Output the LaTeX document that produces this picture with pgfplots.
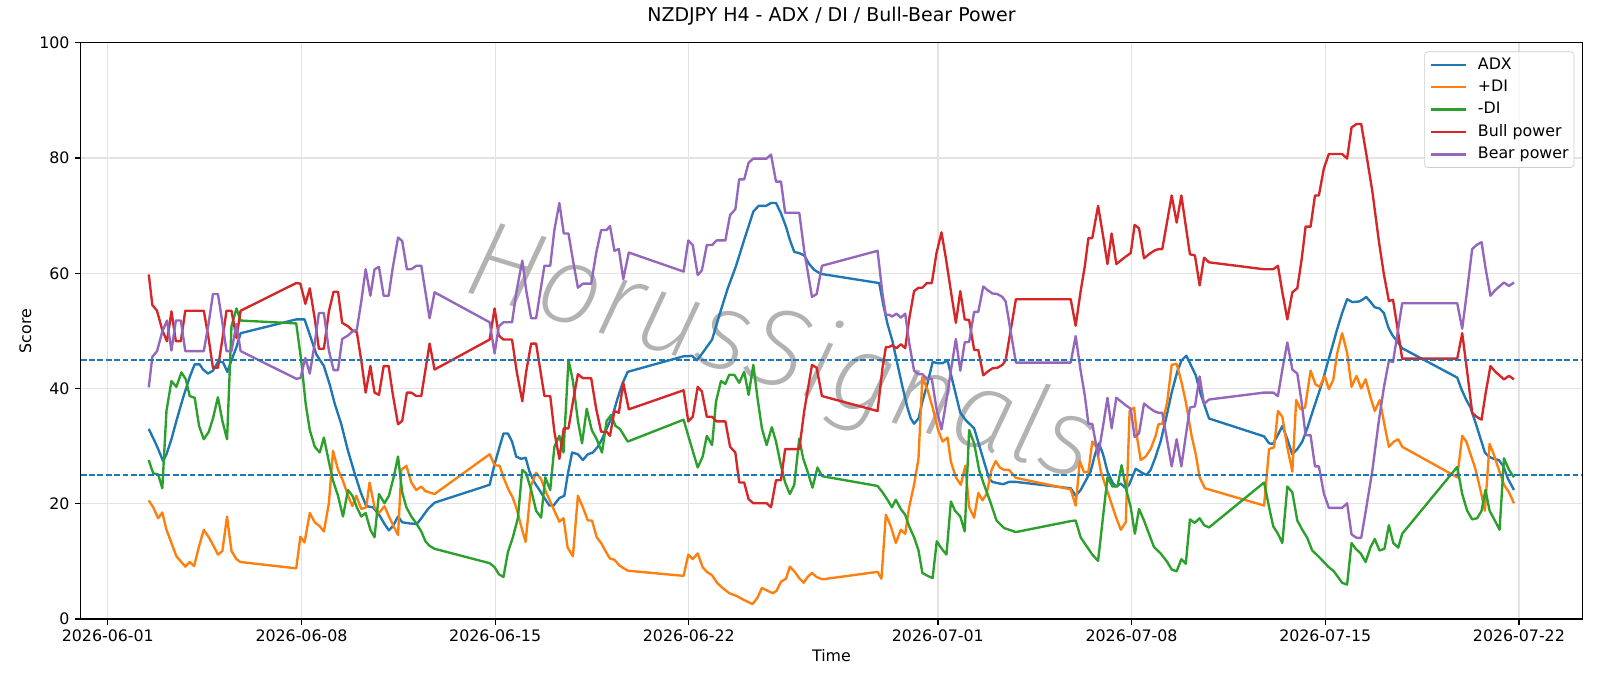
\documentclass[border=0pt]{standalone}
\usepackage{fontspec}
\setmainfont{DejaVu Sans}
\newfontfamily\wmfont{Fira Sans ExtraLight Italic}
\usepackage{pgfplots}
\pgfplotsset{compat=1.18}
\definecolor{cADX}{HTML}{1F77B4}
\definecolor{cPDI}{HTML}{FF7F0E}
\definecolor{cMDI}{HTML}{2CA02C}
\definecolor{cBull}{HTML}{D62728}
\definecolor{cBear}{HTML}{9467BD}
\begin{document}
\begin{tikzpicture}
\begin{axis}[
  at={(0,0)}, anchor=south west,
  scale only axis,
  width=13.139in, height=5.043in,
  xmin=-0.98, xmax=53.29, ymin=0, ymax=100,
  xtick={0,7,14,21,30,37,44,51},
  xticklabels={2026-06-01,2026-06-08,2026-06-15,2026-06-22,2026-07-01,2026-07-08,2026-07-15,2026-07-22},
  ytick={0,20,40,60,80,100},
  /pgf/number format/assume math mode=true,
  tick align=outside, tick pos=left,
  major tick length=3.5pt,
  every tick/.style={black, line width=0.8pt},
  axis line style={black, line width=0.8pt},
  grid=major, grid style={color=black!11, line width=0.8pt},
  ticklabel style={font=\fontsize{10}{12}\selectfont},
  label style={font=\fontsize{10}{12}\selectfont},
  xlabel={Time}, ylabel={Score},
  xlabel style={at={(axis description cs:0.5,-0.0642)}, anchor=center},
  ylabel style={at={(axis description cs:-0.0368,0.5)}, anchor=center},
  title={NZDJPY H4 - ADX / DI / Bull-Bear Power},
  title style={at={(axis description cs:0.5,1.0298)}, anchor=center, yshift=0pt, font=\fontsize{12}{14}\selectfont},
  legend cell align=left,
  legend image code/.code={\draw[#1, line width=1.5pt] (0bp,0bp) -- (22bp,0bp);},
  legend style={at={(1,1)}, anchor=north east, xshift=-5bp, yshift=-5.5bp,
    draw=black!20, rounded corners=2pt, fill=white, fill opacity=0.8, text opacity=1,
    font=\fontsize{10}{12}\selectfont, inner xsep=3.4bp, inner ysep=1.2bp,
    column sep=6.7bp,
    nodes={inner xsep=0bp, inner ysep=2.2bp, text height=7.5bp, text depth=2.2bp}},
  every axis plot/.append style={line width=1.5pt, line join=round},
]

% watermark, under the series
\node[rotate=-17, anchor=base, text=black!30, font=\fontsize{70}{70}\wmfont]
  at (axis cs:24.0,40.5) {HorusSignals};

\addplot[cADX] coordinates {
(1.48,33.0)(1.70,30.8)(1.82,29.5)(2.00,27.4)(2.12,28.6)(2.30,31.2)(2.48,34.4)(2.72,38.4)(2.96,42.0)(3.14,44.2)
(3.32,44.2)(3.44,43.3)(3.62,42.6)(3.80,43.1)(3.98,44.6)(4.16,44.6)(4.32,42.9)(4.47,44.9)(4.65,47.2)(4.80,49.6)
(6.81,52.0)(7.11,52.0)(7.29,49.5)(7.54,45.9)(7.81,43.9)(8.02,40.7)(8.20,37.4)(8.44,33.8)(8.68,29.2)(8.92,25.3)
(9.14,22.0)(9.34,19.6)(9.58,19.4)(9.82,18.0)(10.00,16.5)(10.16,15.4)(10.30,16.1)(10.49,17.8)(10.64,16.8)(10.91,16.6)
(11.17,16.5)(11.33,17.5)(11.57,19.1)(11.81,20.2)(13.80,23.3)(13.98,26.9)(14.16,29.9)(14.30,32.2)(14.46,32.2)(14.61,30.8)
(14.76,28.2)(14.94,27.8)(15.10,28.0)(15.24,25.6)(15.42,23.7)(15.60,22.4)(15.78,21.0)(15.96,19.7)(16.11,19.7)(16.32,21.0)
(16.50,21.4)(16.62,25.0)(16.78,28.9)(16.99,28.6)(17.17,27.6)(17.35,28.6)(17.53,28.9)(17.71,29.9)(17.86,31.2)(18.07,33.5)
(18.25,35.4)(18.43,38.4)(18.61,41.0)(18.79,42.9)(20.81,45.6)(20.96,45.6)(21.11,45.7)(21.29,44.9)(21.50,46.2)(21.84,48.5)
(22.10,52.7)(22.40,57.3)(22.70,61.2)(23.00,65.8)(23.33,70.7)(23.52,71.7)(23.79,71.7)(23.97,72.2)(24.15,72.2)(24.33,70.4)
(24.51,68.1)(24.65,65.8)(24.81,63.7)(24.99,63.5)(25.17,63.1)(25.35,61.6)(25.53,60.6)(25.77,59.9)(27.88,58.3)(28.02,54.7)
(28.18,51.2)(28.36,48.2)(28.54,44.2)(28.72,40.3)(28.90,36.7)(29.02,34.8)(29.14,33.9)(29.30,34.8)(29.44,37.7)(29.63,41.0)
(29.81,44.6)(30.01,44.4)(30.17,44.4)(30.35,44.9)(30.53,41.3)(30.81,35.8)(31.01,34.5)(31.31,33.1)(31.49,30.2)(31.67,27.3)
(31.85,24.4)(31.97,23.8)(32.15,23.6)(32.36,23.4)(32.57,23.8)(32.82,23.8)(34.80,22.7)(34.98,21.4)(35.16,22.4)(35.34,24.0)
(35.52,25.6)(35.68,28.6)(35.82,30.5)(35.97,28.6)(36.13,25.6)(36.31,23.7)(36.43,23.0)(36.61,23.5)(36.79,22.7)(36.91,23.3)
(37.15,26.1)(37.37,25.4)(37.54,25.0)(37.69,25.9)(37.85,27.9)(38.05,30.8)(38.26,35.1)(38.45,39.3)(38.66,43.1)(38.81,44.9)
(38.98,45.7)(39.14,44.1)(39.32,42.3)(39.50,39.0)(39.80,34.8)(41.79,31.7)(41.97,30.5)(42.11,30.4)(42.27,31.8)(42.45,33.5)
(42.63,31.2)(42.81,28.6)(42.99,29.5)(43.17,30.8)(43.35,33.1)(43.53,35.8)(43.71,38.4)(43.89,41.0)(44.07,44.2)(44.25,47.2)
(44.43,50.3)(44.61,53.1)(44.79,55.5)(44.98,55.0)(45.22,55.1)(45.34,55.4)(45.48,55.9)(45.64,55.0)(45.79,54.1)(45.96,53.9)
(46.12,53.1)(46.28,50.6)(46.42,49.3)(46.60,48.2)(46.78,47.0)(48.77,41.9)(48.93,39.8)(49.10,38.0)(49.25,36.7)(49.41,34.4)
(49.58,31.8)(49.77,28.9)(49.91,28.2)(50.09,27.8)(50.27,27.6)(50.43,26.6)(50.61,24.3)(50.82,22.4)
};
\addlegendentry{ADX}

\addplot[cPDI] coordinates {
(1.48,20.6)(1.64,19.4)(1.82,17.5)(1.97,18.5)(2.12,15.5)(2.30,13.2)(2.48,10.9)(2.66,9.9)(2.80,9.1)(2.96,9.9)
(3.12,9.2)(3.29,12.5)(3.47,15.5)(3.65,14.2)(3.80,12.9)(3.98,11.2)(4.14,11.8)(4.31,17.8)(4.47,11.8)(4.65,10.4)
(4.80,9.9)(6.81,8.8)(6.96,14.3)(7.11,13.3)(7.30,18.4)(7.48,16.8)(7.66,16.1)(7.81,15.2)(7.99,20.1)(8.14,29.2)
(8.32,25.9)(8.50,24.0)(8.68,21.4)(8.84,19.6)(8.98,21.4)(9.16,19.1)(9.34,19.4)(9.46,23.7)(9.64,19.4)(9.80,18.4)
(10.00,19.6)(10.16,17.8)(10.33,16.1)(10.49,14.6)(10.61,25.9)(10.79,26.6)(10.97,23.7)(11.15,22.4)(11.33,23.0)(11.48,22.2)
(11.81,21.7)(13.80,28.6)(13.98,26.7)(14.16,26.6)(14.30,24.6)(14.46,22.7)(14.64,21.0)(14.78,19.1)(14.94,16.1)(15.10,13.4)
(15.30,23.2)(15.48,25.4)(15.66,24.3)(15.84,22.0)(15.99,20.4)(16.14,18.8)(16.32,16.9)(16.47,17.5)(16.62,12.4)(16.81,10.9)
(16.99,21.4)(17.17,19.4)(17.35,17.1)(17.50,17.1)(17.67,14.2)(17.83,13.2)(18.01,11.6)(18.15,10.5)(18.31,10.3)(18.49,9.3)
(18.79,8.4)(20.81,7.5)(20.98,11.2)(21.14,10.4)(21.32,11.4)(21.50,9.0)(21.65,8.2)(21.84,7.6)(22.02,6.3)(22.22,5.4)
(22.46,4.5)(22.73,4.0)(23.00,3.3)(23.30,2.6)(23.48,3.7)(23.64,5.4)(23.85,4.9)(24.03,4.5)(24.17,4.9)(24.33,6.5)
(24.51,7.0)(24.65,9.1)(24.81,8.3)(24.99,7.1)(25.15,6.3)(25.29,7.3)(25.45,8.0)(25.62,7.3)(25.83,6.9)(27.82,8.2)
(27.96,7.0)(28.12,18.1)(28.30,16.1)(28.48,13.2)(28.66,15.5)(28.82,14.8)(28.96,19.4)(29.14,23.3)(29.30,27.9)(29.44,42.0)
(29.63,39.7)(29.81,36.7)(30.01,32.8)(30.17,30.8)(30.35,31.5)(30.47,27.3)(30.65,24.6)(30.83,23.3)(30.99,26.6)(31.13,19.4)
(31.31,17.6)(31.46,21.9)(31.61,20.6)(31.76,21.7)(31.94,25.9)(32.09,27.4)(32.24,26.3)(32.39,25.9)(32.57,25.9)(32.82,24.5)
(34.80,22.5)(34.98,19.7)(35.13,27.4)(35.28,25.5)(35.44,25.5)(35.58,30.8)(35.73,29.9)(35.89,25.6)(36.07,23.0)(36.25,20.4)
(36.43,17.8)(36.61,15.5)(36.79,16.8)(36.93,36.1)(37.09,36.7)(37.21,31.2)(37.33,27.6)(37.51,28.2)(37.69,29.5)(37.87,31.8)
(37.97,33.8)(38.11,33.9)(38.29,37.7)(38.45,44.1)(38.63,44.3)(38.81,41.0)(38.96,37.7)(39.17,31.8)(39.32,28.6)(39.46,24.6)
(39.65,22.7)(41.79,19.7)(41.97,29.5)(42.15,29.8)(42.29,36.1)(42.45,35.1)(42.63,29.8)(42.81,25.6)(42.95,38.0)(43.11,36.4)
(43.27,36.7)(43.47,43.1)(43.65,40.7)(43.80,40.3)(43.98,42.2)(44.13,39.9)(44.29,41.5)(44.43,46.1)(44.61,49.6)(44.79,46.2)
(44.95,40.3)(45.13,42.2)(45.30,40.0)(45.46,41.6)(45.64,38.4)(45.79,36.1)(45.97,38.0)(46.15,33.5)(46.30,29.9)(46.48,30.8)
(46.64,31.2)(46.78,29.9)(48.77,24.6)(48.95,31.8)(49.10,30.8)(49.25,28.6)(49.43,26.0)(49.61,22.4)(49.77,18.8)(49.94,30.4)
(50.09,28.6)(50.27,26.0)(50.46,23.3)(50.64,22.0)(50.82,20.1)
};
\addlegendentry{+DI}

\addplot[cMDI] coordinates {
(1.48,27.6)(1.64,25.3)(1.82,25.1)(1.97,22.7)(2.12,36.1)(2.30,41.3)(2.48,40.3)(2.66,42.8)(2.82,41.6)(2.96,38.7)
(3.14,38.4)(3.30,33.5)(3.47,31.2)(3.65,32.5)(3.80,34.8)(3.98,38.5)(4.14,34.4)(4.31,31.2)(4.47,50.8)(4.65,53.9)
(4.80,51.8)(6.81,51.3)(6.99,44.9)(7.15,37.4)(7.30,32.8)(7.48,29.9)(7.66,28.9)(7.81,31.5)(7.99,27.3)(8.14,24.0)
(8.32,21.4)(8.50,17.8)(8.68,22.4)(8.84,21.4)(9.00,19.4)(9.16,17.8)(9.32,18.4)(9.49,15.5)(9.64,14.2)(9.80,21.7)
(10.00,20.1)(10.16,21.4)(10.33,24.6)(10.49,28.2)(10.64,22.0)(10.79,19.4)(10.97,17.8)(11.15,16.6)(11.33,15.2)(11.48,13.5)
(11.63,12.7)(11.81,12.2)(13.80,9.7)(13.98,9.0)(14.13,7.8)(14.30,7.3)(14.46,11.6)(14.64,14.2)(14.82,17.5)(14.98,25.9)
(15.12,25.3)(15.30,22.4)(15.48,18.8)(15.66,17.6)(15.81,24.6)(15.99,22.4)(16.14,29.9)(16.32,31.8)(16.47,28.9)(16.65,45.0)
(16.81,41.3)(16.99,34.4)(17.14,30.5)(17.31,36.5)(17.49,32.8)(17.67,31.2)(17.86,28.9)(18.03,34.4)(18.19,35.4)(18.35,33.5)
(18.51,33.0)(18.79,30.8)(20.81,34.6)(20.98,31.8)(21.14,29.2)(21.32,26.3)(21.50,28.2)(21.65,31.8)(21.84,30.2)(21.98,37.7)
(22.16,41.3)(22.32,40.8)(22.46,42.4)(22.64,42.4)(22.82,41.0)(23.00,42.9)(23.16,38.9)(23.33,44.1)(23.48,38.4)(23.64,33.1)
(23.81,30.2)(24.00,33.3)(24.15,30.8)(24.33,26.6)(24.48,23.7)(24.65,21.7)(24.81,23.3)(24.99,31.3)(25.13,27.9)(25.29,25.6)
(25.47,22.8)(25.65,26.3)(25.81,24.8)(27.82,23.1)(28.00,22.0)(28.18,20.7)(28.34,19.4)(28.48,20.7)(28.66,19.1)(28.82,18.1)
(28.96,16.1)(29.14,14.2)(29.30,11.9)(29.44,8.0)(29.63,7.5)(29.81,7.1)(29.96,13.5)(30.14,12.2)(30.31,11.2)(30.47,20.4)
(30.62,18.8)(30.81,17.8)(30.97,15.2)(31.13,32.8)(31.31,30.5)(31.49,25.9)(31.67,23.3)(31.89,20.4)(32.12,17.1)(32.39,15.8)
(32.82,15.1)(34.80,17.0)(34.98,17.1)(35.16,14.2)(35.34,12.9)(35.58,11.2)(35.79,10.1)(35.97,17.8)(36.13,24.6)(36.31,23.0)
(36.49,23.0)(36.64,26.7)(36.81,22.4)(36.97,19.4)(37.12,14.8)(37.27,19.1)(37.45,17.1)(37.63,14.8)(37.81,12.5)(38.05,11.4)
(38.29,9.9)(38.45,8.6)(38.63,8.3)(38.80,10.4)(38.96,9.6)(39.11,17.3)(39.28,16.7)(39.46,17.5)(39.62,16.3)(39.80,15.9)
(41.79,23.7)(41.97,19.4)(42.12,16.1)(42.29,14.8)(42.45,13.2)(42.63,23.0)(42.81,22.0)(42.99,17.1)(43.17,15.5)(43.35,14.1)
(43.53,11.9)(43.75,10.9)(43.95,9.9)(44.13,9.0)(44.31,8.3)(44.46,7.3)(44.61,6.3)(44.79,6.0)(44.95,13.2)(45.10,12.2)
(45.28,11.4)(45.46,9.9)(45.64,12.5)(45.79,13.9)(45.96,11.9)(46.14,12.2)(46.30,16.3)(46.46,13.2)(46.64,12.4)(46.78,14.8)
(48.77,26.4)(48.95,21.7)(49.13,18.8)(49.31,17.3)(49.49,17.5)(49.65,18.8)(49.79,22.4)(49.94,18.8)(50.13,17.1)(50.30,15.5)
(50.46,27.9)(50.64,25.9)(50.82,24.6)
};
\addlegendentry{-DI}

\addplot[cBull] coordinates {
(1.48,59.8)(1.61,54.5)(1.78,53.5)(1.97,50.1)(2.14,48.2)(2.30,53.4)(2.46,48.2)(2.64,48.2)(2.80,53.5)(2.96,53.5)
(3.47,53.5)(3.65,48.5)(3.80,43.6)(3.98,43.6)(4.14,48.5)(4.29,53.5)(4.47,53.5)(4.65,48.8)(4.80,53.5)(6.81,58.3)
(6.96,58.2)(7.14,54.7)(7.30,57.4)(7.48,52.1)(7.63,46.9)(7.81,46.9)(7.99,53.4)(8.16,56.8)(8.32,56.8)(8.47,51.4)
(8.68,50.8)(8.84,50.1)(9.00,49.8)(9.16,44.9)(9.32,39.3)(9.49,43.9)(9.64,39.3)(9.80,38.9)(9.97,43.9)(10.15,43.9)
(10.30,39.0)(10.49,33.8)(10.64,34.4)(10.81,39.3)(10.97,39.3)(11.15,38.7)(11.33,38.7)(11.63,47.8)(11.81,43.3)(13.80,48.5)
(13.98,53.9)(14.13,49.2)(14.30,48.5)(14.61,48.5)(14.78,42.9)(14.98,37.8)(15.12,42.9)(15.30,47.8)(15.48,47.8)(15.78,38.7)
(15.99,38.7)(16.14,32.5)(16.32,27.8)(16.48,33.1)(16.65,33.1)(16.81,37.7)(16.99,42.5)(17.17,41.8)(17.47,41.8)(17.65,36.5)
(17.83,32.5)(18.03,32.5)(18.15,31.8)(18.31,36.1)(18.47,35.8)(18.63,41.0)(18.83,36.4)(20.81,39.7)(20.98,34.3)(21.14,35.1)
(21.32,40.3)(21.47,39.5)(21.65,35.1)(21.84,35.1)(22.00,34.3)(22.32,34.3)(22.49,29.9)(22.68,28.9)(22.82,23.7)(23.00,23.7)
(23.16,20.8)(23.33,20.1)(23.81,20.1)(23.97,19.4)(24.15,24.1)(24.33,24.1)(24.48,29.5)(24.99,29.5)(25.17,36.1)(25.45,44.1)
(25.62,43.6)(25.81,38.7)(27.82,36.1)(28.00,43.6)(28.12,47.2)(28.24,47.2)(28.34,47.5)(28.51,47.0)(28.66,47.7)(28.82,47.0)
(28.96,52.0)(29.14,56.9)(29.30,57.5)(29.44,57.5)(29.60,58.3)(29.78,58.3)(29.95,63.5)(30.13,67.1)(30.29,62.6)(30.47,56.9)
(30.65,51.4)(30.81,56.9)(30.97,52.0)(31.13,51.9)(31.31,46.7)(31.46,46.7)(31.64,42.3)(31.79,42.9)(31.97,43.5)(32.15,43.6)
(32.33,44.1)(32.45,44.9)(32.82,55.5)(34.80,55.5)(34.98,50.9)(35.16,56.9)(35.31,61.2)(35.44,66.1)(35.58,66.1)(35.79,71.7)
(35.97,66.5)(36.13,61.6)(36.28,66.9)(36.45,61.6)(36.79,62.9)(36.97,63.5)(37.11,68.4)(37.27,67.8)(37.45,62.6)(37.63,63.3)
(37.81,63.9)(37.97,64.2)(38.11,64.2)(38.29,69.1)(38.45,73.5)(38.63,68.8)(38.80,73.5)(38.96,68.2)(39.11,63.3)(39.29,63.1)
(39.46,57.9)(39.62,62.7)(39.80,61.9)(41.79,60.7)(42.12,60.7)(42.29,61.3)(42.45,56.7)(42.63,52.0)(42.81,56.7)(42.99,57.4)
(43.15,62.5)(43.29,68.1)(43.47,68.1)(43.63,73.5)(43.77,73.5)(43.95,78.2)(44.13,80.7)(44.61,80.7)(44.79,79.9)(44.95,85.3)
(45.13,85.9)(45.30,85.9)(45.48,80.8)(45.70,74.3)(45.94,65.5)(46.12,59.8)(46.30,55.2)(46.45,55.4)(46.60,50.8)(46.78,45.2)
(48.77,45.2)(48.95,49.6)(49.13,42.9)(49.31,35.8)(49.47,35.1)(49.65,34.6)(49.79,39.0)(49.97,43.9)(50.15,42.9)(50.46,41.6)
(50.64,42.2)(50.82,41.6)
};
\addlegendentry{Bull power}

\addplot[cBear] coordinates {
(1.48,40.2)(1.61,45.5)(1.78,46.5)(1.97,49.9)(2.14,51.8)(2.30,46.6)(2.46,51.8)(2.64,51.8)(2.80,46.5)(2.96,46.5)
(3.47,46.5)(3.65,51.5)(3.80,56.4)(3.98,56.4)(4.14,51.5)(4.29,46.5)(4.47,46.5)(4.65,51.2)(4.80,46.5)(6.81,41.7)
(6.96,41.8)(7.14,45.3)(7.30,42.6)(7.48,47.9)(7.63,53.1)(7.81,53.1)(7.99,46.6)(8.16,43.2)(8.32,43.2)(8.47,48.6)
(8.68,49.2)(8.84,49.9)(9.00,50.2)(9.16,55.1)(9.32,60.7)(9.49,56.1)(9.64,60.7)(9.80,61.1)(9.97,56.1)(10.15,56.1)
(10.30,61.0)(10.49,66.2)(10.64,65.6)(10.81,60.7)(10.97,60.7)(11.15,61.3)(11.33,61.3)(11.63,52.2)(11.81,56.7)(13.80,51.5)
(13.98,46.1)(14.13,50.8)(14.30,51.5)(14.61,51.5)(14.78,57.1)(14.98,62.2)(15.12,57.1)(15.30,52.2)(15.48,52.2)(15.78,61.3)
(15.99,61.3)(16.14,67.5)(16.32,72.2)(16.48,66.9)(16.65,66.9)(16.81,62.3)(16.99,57.5)(17.17,58.2)(17.47,58.2)(17.65,63.5)
(17.83,67.5)(18.03,67.5)(18.15,68.2)(18.31,63.9)(18.47,64.2)(18.63,59.0)(18.83,63.6)(20.81,60.3)(20.98,65.7)(21.14,64.9)
(21.32,59.7)(21.47,60.5)(21.65,64.9)(21.84,64.9)(22.00,65.7)(22.32,65.7)(22.49,70.1)(22.68,71.1)(22.82,76.3)(23.00,76.3)
(23.16,79.2)(23.33,79.9)(23.81,79.9)(23.97,80.6)(24.15,75.9)(24.33,75.9)(24.48,70.5)(24.99,70.5)(25.17,63.9)(25.45,55.9)
(25.62,56.4)(25.81,61.3)(27.82,63.9)(28.00,56.4)(28.12,52.8)(28.24,52.8)(28.34,52.5)(28.51,53.0)(28.66,52.3)(28.82,53.0)
(28.96,48.0)(29.14,43.1)(29.30,42.5)(29.44,42.5)(29.60,41.7)(29.78,41.7)(29.95,36.5)(30.13,32.9)(30.29,37.4)(30.47,43.1)
(30.65,48.6)(30.81,43.1)(30.97,48.0)(31.13,48.1)(31.31,53.3)(31.46,53.3)(31.64,57.7)(31.79,57.1)(31.97,56.5)(32.15,56.4)
(32.33,55.9)(32.45,55.1)(32.82,44.5)(34.80,44.5)(34.98,49.1)(35.16,43.1)(35.31,38.8)(35.44,33.9)(35.58,33.9)(35.79,28.3)
(35.97,33.5)(36.13,38.4)(36.28,33.1)(36.45,38.4)(36.79,37.1)(36.97,36.5)(37.11,31.6)(37.27,32.2)(37.45,37.4)(37.63,36.7)
(37.81,36.1)(37.97,35.8)(38.11,35.8)(38.29,30.9)(38.45,26.5)(38.63,31.2)(38.80,26.5)(38.96,31.8)(39.11,36.7)(39.29,36.9)
(39.46,42.1)(39.62,37.3)(39.80,38.1)(41.79,39.3)(42.12,39.3)(42.29,38.7)(42.45,43.3)(42.63,48.0)(42.81,43.3)(42.99,42.6)
(43.15,37.5)(43.29,31.9)(43.47,31.9)(43.63,26.5)(43.77,26.5)(43.95,21.8)(44.13,19.3)(44.61,19.3)(44.79,20.1)(44.95,14.7)
(45.13,14.1)(45.30,14.1)(45.48,19.2)(45.70,25.7)(45.94,34.5)(46.12,40.2)(46.30,44.8)(46.45,44.6)(46.60,49.2)(46.78,54.8)
(48.77,54.8)(48.95,50.4)(49.13,57.1)(49.31,64.2)(49.47,64.9)(49.65,65.4)(49.79,61.0)(49.97,56.1)(50.15,57.1)(50.46,58.4)
(50.64,57.8)(50.82,58.4)
};
\addlegendentry{Bear power}

% reference levels
\addplot[cADX, line width=1pt, dash pattern=on 3.7pt off 1.6pt, forget plot] coordinates {(-0.98,45) (53.29,45)};
\addplot[cADX, line width=1pt, dash pattern=on 3.7pt off 1.6pt, forget plot] coordinates {(-0.98,25) (53.29,25)};
\end{axis}
\pgfresetboundingbox
\path[use as bounding box] (-0.706in,-0.586in) rectangle (13.294in,5.417in);
\end{tikzpicture}
\end{document}
